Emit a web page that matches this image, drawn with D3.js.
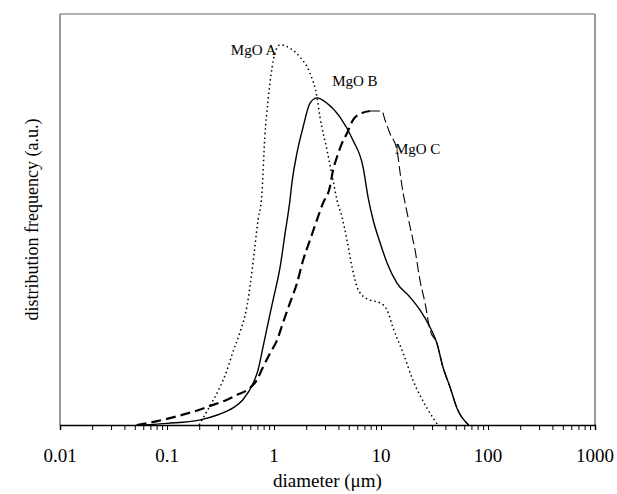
<!DOCTYPE html>
<html>
<head>
<meta charset="utf-8">
<script src="https://cdn.jsdelivr.net/npm/d3@7"></script>
<style>
  body { margin: 0; background: #fff; }
  text { font-family: "Liberation Serif", "DejaVu Serif", serif; fill: #000; }
</style>
</head>
<body>
<svg id="chart" width="617" height="494"></svg>
<script>
// diameter (um) / distribution frequency (a.u.)
let seriesA = [
  [0.2, 0], [0.25, 0.045], [0.31, 0.09], [0.36, 0.13], [0.41, 0.175], [0.48, 0.225],
  [0.56, 0.29], [0.63, 0.385], [0.71, 0.5], [0.77, 0.56], [0.82, 0.7], [0.88, 0.79],
  [0.96, 0.87], [1.02, 0.905], [1.14, 0.925], [1.41, 0.917], [1.75, 0.895], [2.17, 0.856],
  [2.52, 0.798], [2.69, 0.749], [3.13, 0.669], [3.56, 0.596], [3.88, 0.547], [4.32, 0.506],
  [4.81, 0.45], [5.36, 0.384], [5.97, 0.336], [6.64, 0.316], [7.88, 0.304], [9.79, 0.297],
  [11.4, 0.28], [12.9, 0.238], [16.1, 0.175], [19.9, 0.109], [26.9, 0.041], [34, 0]
];
let seriesB = [
  [0.06, 0], [0.1, 0.004], [0.2, 0.012], [0.3, 0.025], [0.41, 0.041], [0.51, 0.061],
  [0.64, 0.102], [0.71, 0.134], [0.79, 0.19], [0.88, 0.248], [0.98, 0.304], [1.14, 0.384],
  [1.27, 0.467], [1.41, 0.547], [1.47, 0.589], [1.64, 0.662], [1.87, 0.725], [2.17, 0.783],
  [2.52, 0.796], [3.13, 0.783], [4.14, 0.749], [5.47, 0.693], [6.79, 0.628], [7.56, 0.555],
  [8.42, 0.5], [9.79, 0.444], [11.4, 0.394], [14.1, 0.345], [18.7, 0.311], [23.1, 0.28],
  [28.7, 0.238], [33.3, 0.199], [37.9, 0.141], [44.2, 0.092], [51.3, 0.041], [66, 0]
];
let seriesC = [
  [0.052, 0], [0.07, 0.006], [0.1, 0.015], [0.195, 0.036], [0.27, 0.049], [0.36, 0.061],
  [0.45, 0.073], [0.56, 0.085], [0.69, 0.109], [0.79, 0.141], [0.92, 0.175], [1.07, 0.207],
  [1.21, 0.248], [1.41, 0.297], [1.64, 0.345], [1.87, 0.401], [2.17, 0.45], [2.52, 0.499],
  [2.87, 0.54], [3.33, 0.579], [3.56, 0.62], [3.88, 0.652], [4.32, 0.686], [4.81, 0.71],
  [5.47, 0.742], [6.64, 0.759], [7.88, 0.764], [10.2, 0.764], [10.9, 0.742], [12.1, 0.71],
  [14.1, 0.669], [15.1, 0.613], [16.1, 0.564], [16.8, 0.54], [18.7, 0.482], [20.8, 0.426],
  [23.1, 0.353], [25.8, 0.297], [28.7, 0.231], [33.3, 0.199], [37.9, 0.141], [44.2, 0.092],
  [51.3, 0.041], [66, 0]
];
let tickValues = [0.01, 0.1, 1, 10, 100, 1000];
let tickLabels = ["0.01", "0.1", "1", "10", "100", "1000"];
let seriesLabels = ["MgO A", "MgO B", "MgO C"];
// label anchor points in data units (end of text, baseline)
let labelAnchors = [[1.05, 0.9], [3.5, 0.825], [13.5, 0.66]];

let mLeft = 60, mRight = 595, mTop = 14, mBottom = 425;

let svg = d3.select("#chart");

let x = d3.scaleLog().domain([0.01, 1000]).range([mLeft, mRight]);
let y = d3.scaleLinear().domain([0, 1]).range([mBottom, mTop]);

// frame
svg.append("line").attr("x1", mLeft).attr("x2", mRight).attr("y1", mTop).attr("y2", mTop)
  .style("stroke", "#999").style("stroke-width", 1.5);
svg.append("line").attr("x1", mRight).attr("x2", mRight).attr("y1", mTop).attr("y2", mBottom)
  .style("stroke", "#777").style("stroke-width", 1.5);
svg.append("line").attr("x1", mLeft).attr("x2", mLeft).attr("y1", mTop).attr("y2", mBottom)
  .style("stroke", "#777").style("stroke-width", 1.5);

// x axis, log ticks 1..9 per decade
let minor = [];
for (let e = -2; e < 3; e++) for (let k = 1; k < 10; k++) minor.push(k * Math.pow(10, e));
minor.push(1000);

let xAxis = d3.axisBottom(x)
  .tickValues(minor)
  .tickSize(5)
  .tickFormat("");
let gx = svg.append("g")
  .attr("transform", `translate(0,${mBottom})`)
  .call(xAxis);
gx.select(".domain").attr("stroke", "#000").attr("stroke-width", 1.5);
gx.selectAll(".tick line").attr("stroke", "#000").attr("stroke-width", 1);

svg.selectAll(".xlab")
  .data(tickValues)
  .enter().append("text")
    .attr("class", "xlab")
    .attr("x", d => x(d))
    .attr("y", 462)
    .attr("text-anchor", "middle")
    .style("font-size", "19px")
    .text((d, i) => tickLabels[i]);

// axis titles
svg.append("text")
  .attr("x", (mLeft + mRight) / 2)
  .attr("y", 487)
  .attr("text-anchor", "middle")
  .style("font-size", "19px")
  .text("diameter (\u03bcm)");

svg.append("text")
  .attr("transform", `translate(38,${(mTop + mBottom) / 2}) rotate(-90)`)
  .attr("text-anchor", "middle")
  .style("font-size", "18px")
  .text("distribution frequency (a.u.)");

// curves
let line = d3.line()
  .x(d => x(d[0]))
  .y(d => y(d[1]))
  .curve(d3.curveMonotoneX);

svg.append("path")
  .datum(seriesA)
  .attr("d", line)
  .style("fill", "none")
  .style("stroke", "#000")
  .style("stroke-width", 1.5)
  .style("stroke-dasharray", "1.5,3");

svg.append("path")
  .datum(seriesB)
  .attr("d", line)
  .style("fill", "none")
  .style("stroke", "#000")
  .style("stroke-width", 1.4);

// MgO C: heavy dashes on the rising side, thin dashes after the peak
let peakC = d3.maxIndex(seriesC, d => d[1]);
svg.append("path")
  .datum(seriesC.slice(0, peakC + 1))
  .attr("d", line)
  .style("fill", "none")
  .style("stroke", "#000")
  .style("stroke-width", 2.2)
  .style("stroke-dasharray", "10,5");
svg.append("path")
  .datum(seriesC.slice(peakC))
  .attr("d", line)
  .style("fill", "none")
  .style("stroke", "#000")
  .style("stroke-width", 1.1)
  .style("stroke-dasharray", "10,4");

// series labels
svg.selectAll(".slab")
  .data(seriesLabels)
  .enter().append("text")
    .attr("class", "slab")
    .attr("x", (d, i) => x(labelAnchors[i][0]))
    .attr("y", (d, i) => y(labelAnchors[i][1]))
    .attr("text-anchor", (d, i) => i == 0 ? "end" : "start")
    .style("font-size", "15px")
    .text(d => d);
</script>
</body>
</html>
